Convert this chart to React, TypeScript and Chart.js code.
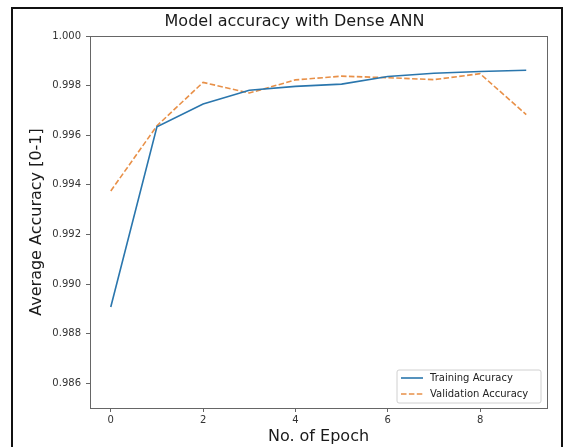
import React, { useEffect, useRef } from "react";
import { Chart, registerables } from "chart.js";

Chart.register(...registerables);

const epochs = [0, 1, 2, 3, 4, 5, 6, 7, 8, 9];
const trainingAccuracy = [0.98907, 0.99634, 0.99726, 0.99781, 0.99797, 0.99806, 0.99837, 0.9985, 0.99857, 0.99862];
const validationAccuracy = [0.99375, 0.99638, 0.99813, 0.9977, 0.99823, 0.99838, 0.99832, 0.99824, 0.99848, 0.99683];
const xTicks = [0, 2, 4, 6, 8];
const yTicks = [0.986, 0.988, 0.99, 0.992, 0.994, 0.996, 0.998, 1.0];
const titleText = "Model accuracy with Dense ANN";
const xTitle = "No. of Epoch";
const yTitle = "Average Accuracy [0-1]";
const seriesLabels = ["Training Acuracy", "Validation Accuracy"];

const FONT = "'DejaVu Sans', sans-serif";

export default function App() {
  const canvasRef = useRef<HTMLCanvasElement | null>(null);

  useEffect(() => {
    const canvas = canvasRef.current;
    if (!canvas) return;

    const framePlugin = {
      id: "frameAndText",
      afterDraw(chart: any) {
        const { ctx, chartArea } = chart;
        ctx.save();
        // axes spines
        ctx.strokeStyle = "#666";
        ctx.lineWidth = 1;
        ctx.strokeRect(
          Math.round(chartArea.left) + 0.5,
          Math.round(chartArea.top) + 0.5,
          Math.round(chartArea.right - chartArea.left),
          Math.round(chartArea.bottom - chartArea.top)
        );
        // title
        ctx.fillStyle = "#1a1a1a";
        ctx.font = `16px ${FONT}`;
        ctx.textAlign = "center";
        ctx.textBaseline = "middle";
        ctx.fillText(titleText, 294.5, 22);

        // legend
        const ds = chart.data.datasets;
        const bw = 144;
        const bh = 33;
        const bx = chartArea.right - 6 - bw;
        const by = chartArea.bottom - 5 - bh;
        ctx.fillStyle = "rgba(255,255,255,0.85)";
        ctx.strokeStyle = "#d0d0d0";
        ctx.lineWidth = 1;
        ctx.beginPath();
        const r = 2;
        ctx.moveTo(bx + r, by);
        ctx.lineTo(bx + bw - r, by);
        ctx.quadraticCurveTo(bx + bw, by, bx + bw, by + r);
        ctx.lineTo(bx + bw, by + bh - r);
        ctx.quadraticCurveTo(bx + bw, by + bh, bx + bw - r, by + bh);
        ctx.lineTo(bx + r, by + bh);
        ctx.quadraticCurveTo(bx, by + bh, bx, by + bh - r);
        ctx.lineTo(bx, by + r);
        ctx.quadraticCurveTo(bx, by, bx + r, by);
        ctx.closePath();
        ctx.fill();
        ctx.stroke();
        ds.forEach((d: any, i: number) => {
          const y = by + 8 + i * 16;
          ctx.strokeStyle = d.borderColor;
          ctx.lineWidth = d.borderWidth;
          ctx.setLineDash(d.borderDash || []);
          ctx.beginPath();
          ctx.moveTo(bx + 4, y);
          ctx.lineTo(bx + 26, y);
          ctx.stroke();
          ctx.setLineDash([]);
          ctx.fillStyle = "#222";
          ctx.font = `10px ${FONT}`;
          ctx.textAlign = "left";
          ctx.textBaseline = "middle";
          ctx.fillText(d.label, bx + 33, y);
        });
        ctx.restore();
      },
    };

    const chart = new Chart(canvas, {
      type: "line",
      data: {
        datasets: [
          {
            label: seriesLabels[0],
            data: epochs.map((e, i) => ({ x: e, y: trainingAccuracy[i] })),
            borderColor: "#2a76ad",
            borderWidth: 1.6,
            pointRadius: 0,
            tension: 0,
            fill: false,
          },
          {
            label: seriesLabels[1],
            data: epochs.map((e, i) => ({ x: e, y: validationAccuracy[i] })),
            borderColor: "#e89048",
            borderWidth: 1.6,
            borderDash: [5.5, 2.4],
            pointRadius: 0,
            tension: 0,
            fill: false,
          },
        ],
      },
      options: {
        responsive: false,
        animation: false,
        devicePixelRatio: 1,
        layout: { padding: { left: 20, top: 36, right: 17, bottom: 0 } },
        plugins: {
          legend: { display: false },
          title: { display: false },
          tooltip: { enabled: false },
        },
        scales: {
          x: {
            type: "linear",
            min: -0.45,
            max: 9.45,
            afterFit: (s: any) => {
              s.height = 39;
            },
            afterBuildTicks: (s: any) => {
              s.ticks = xTicks.map((v) => ({ value: v }));
            },
            border: { display: false },
            grid: {
              drawOnChartArea: false,
              drawTicks: true,
              tickLength: 4,
              color: "#666",
            },
            ticks: {
              padding: 2,
              color: "#333",
              font: { family: FONT, size: 10 },
              maxRotation: 0,
              callback: (v: any) => String(v),
            },
            title: {
              display: true,
              text: xTitle,
              color: "#1a1a1a",
              font: { family: FONT, size: 16 },
              padding: { top: 0, bottom: 0.4 },
            },
          },
          y: {
            type: "linear",
            min: 0.985,
            max: 1.0,
            afterFit: (s: any) => {
              s.width = 70;
            },
            afterBuildTicks: (s: any) => {
              s.ticks = yTicks.map((v) => ({ value: v }));
            },
            border: { display: false },
            grid: {
              drawOnChartArea: false,
              drawTicks: true,
              tickLength: 4,
              color: "#666",
            },
            ticks: {
              padding: 5,
              color: "#333",
              font: { family: FONT, size: 10 },
              callback: (v: any) => Number(v).toFixed(3),
            },
            title: {
              display: true,
              text: yTitle,
              color: "#1a1a1a",
              font: { family: FONT, size: 16 },
              padding: { top: 7.4, bottom: 0 },
            },
          },
        },
      },
      plugins: [framePlugin],
    });

    return () => chart.destroy();
  }, []);

  return (
    <div
      style={{
        position: "fixed",
        left: 0,
        top: 0,
        width: 564,
        height: 447,
        overflow: "hidden",
        background: "#fff",
      }}
    >
      <div
        style={{
          position: "absolute",
          left: 11,
          top: 7,
          width: 552,
          height: 470,
          border: "2px solid #111",
          boxSizing: "border-box",
        }}
      />
      <canvas
        ref={canvasRef}
        width={564}
        height={447}
        style={{ position: "absolute", left: 0, top: 0, width: 564, height: 447 }}
      />
    </div>
  );
}
